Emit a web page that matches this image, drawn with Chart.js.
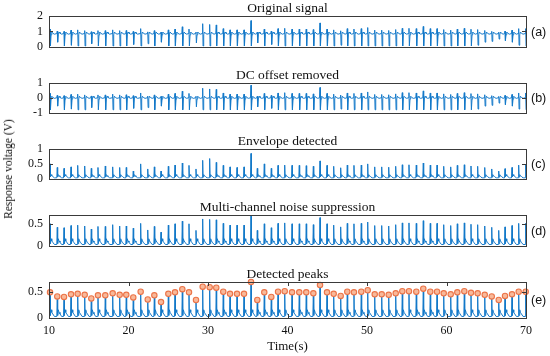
<!DOCTYPE html>
<html>
<head>
<meta charset="utf-8">
<script src="https://cdn.jsdelivr.net/npm/chart.js@4.4.1/dist/chart.umd.min.js"></script>
<style>
  body { margin: 0; background: #fff; }
  #wrap { position: relative; width: 550px; height: 356px; background: #fff; }
  #wrap canvas { position: absolute; left: 0; }
  #ylab {
    position: absolute; left: 8px; top: 169px;
    transform: translate(-50%, -50%) rotate(-90deg);
    font: 11.5px "Liberation Serif", serif; color: #111; white-space: nowrap;
  }
</style>
</head>
<body>
<div id="wrap">
  <canvas id="pa" width="550" height="60" style="top:0px"></canvas>
  <canvas id="pb" width="550" height="59" style="top:67px"></canvas>
  <canvas id="pc" width="550" height="59" style="top:133px"></canvas>
  <canvas id="pd" width="550" height="60" style="top:199px"></canvas>
  <canvas id="pe" width="550" height="90" style="top:266px"></canvas>
  <div id="ylab">Response voltage (V)</div>
</div>
<script>
const beatTimes = [10.13, 11.04, 11.89, 12.77, 13.61, 14.49, 15.32, 16.16, 17.08, 18.01,
  18.89, 19.72, 20.60, 21.53, 22.42, 23.25, 24.09, 25.01, 25.85, 26.77,
  27.61, 28.49, 29.33, 30.21, 31.04, 31.92, 32.77, 33.65, 34.53, 35.41,
  36.20, 37.08, 37.96, 38.81, 39.65, 40.57, 41.48, 42.36, 43.25, 44.09,
  44.97, 45.81, 46.69, 47.52, 48.36, 49.28, 50.09, 50.97, 51.85, 52.73,
  53.61, 54.44, 55.28, 56.20, 57.08, 57.96, 58.81, 59.65, 60.53, 61.36,
  62.24, 63.08, 63.92, 64.81, 65.69, 66.57, 67.36, 68.24, 69.08, 69.96];

// original signal: upward spike and downward spike of each beat (V)
const peaksA = [1.15, 1.02, 1.00, 1.08, 1.10, 1.05, 0.98, 1.05, 1.05, 1.10,
  1.05, 1.06, 1.00, 1.18, 0.97, 1.05, 0.95, 1.10, 1.15, 1.30,
  1.15, 0.96, 1.50, 1.45, 1.42, 1.18, 1.10, 1.10, 1.10, 1.70,
  0.96, 1.15, 1.02, 1.18, 1.20, 1.15, 1.15, 1.15, 1.12, 1.55,
  1.15, 1.10, 1.04, 1.18, 1.15, 1.18, 1.25, 1.08, 1.08, 1.06,
  1.12, 1.20, 1.20, 1.18, 1.32, 1.18, 1.18, 1.12, 1.08, 1.15,
  1.20, 1.14, 1.12, 1.06, 1.00, 0.95, 1.02, 1.08, 1.18, 1.18];
const troughsA = [0.05, 0.30, 0.05, 0.10, 0.05, 0.05, 0.20, 0.05, 0.05, 0.05,
  0.05, 0.05, 0.15, 0.05, 0.20, 0.05, 0.30, 0.05, 0.05, 0.05,
  0.05, 0.25, 0.05, 0.05, 0.05, 0.05, 0.05, 0.05, 0.05, 0.05,
  0.25, 0.05, 0.15, 0.05, 0.05, 0.05, 0.05, 0.05, 0.05, 0.05,
  0.05, 0.05, 0.10, 0.05, 0.05, 0.05, 0.05, 0.05, 0.05, 0.05,
  0.05, 0.05, 0.05, 0.05, 0.05, 0.05, 0.05, 0.05, 0.05, 0.05,
  0.05, 0.05, 0.10, 0.30, 0.35, 0.50, 0.40, 0.30, 0.10, 0.05];
const dcOffset = 0.85;

// envelope peaks
const peaksC = [0.50, 0.38, 0.35, 0.40, 0.45, 0.43, 0.35, 0.38, 0.43, 0.40,
  0.38, 0.38, 0.26, 0.50, 0.33, 0.40, 0.26, 0.42, 0.46, 0.53,
  0.45, 0.33, 0.62, 0.68, 0.55, 0.45, 0.40, 0.38, 0.40, 0.85,
  0.35, 0.50, 0.35, 0.45, 0.46, 0.45, 0.45, 0.44, 0.42, 0.60,
  0.45, 0.42, 0.37, 0.46, 0.45, 0.46, 0.50, 0.40, 0.40, 0.39,
  0.42, 0.47, 0.47, 0.46, 0.53, 0.46, 0.46, 0.42, 0.40, 0.45,
  0.47, 0.43, 0.42, 0.38, 0.33, 0.26, 0.34, 0.38, 0.46, 0.48];

// noise-suppressed peaks (also the detected peak markers)
const peaksE = [0.50, 0.42, 0.41, 0.46, 0.47, 0.45, 0.38, 0.44, 0.44, 0.48,
  0.45, 0.45, 0.40, 0.51, 0.36, 0.44, 0.31, 0.47, 0.50, 0.56,
  0.50, 0.35, 0.61, 0.60, 0.59, 0.51, 0.47, 0.47, 0.47, 0.70,
  0.35, 0.50, 0.41, 0.51, 0.52, 0.50, 0.50, 0.50, 0.48, 0.64,
  0.50, 0.47, 0.43, 0.51, 0.50, 0.51, 0.54, 0.46, 0.46, 0.45,
  0.48, 0.52, 0.52, 0.51, 0.57, 0.51, 0.51, 0.48, 0.46, 0.50,
  0.52, 0.49, 0.48, 0.45, 0.42, 0.35, 0.43, 0.46, 0.51, 0.51];

// one cycle of each trace as seen in the plots: offset from beat (s) and level
const cycleOffsets = [-0.06, 0, 0.05, 0.13, 0.22, 0.34, 0.55];
const cycleA = [0.86, 'peak', 'trough', 0.78, 0.96, 0.88, 0.82];
const cycleC = [0.03, 'peak', 0.06, 0.14, 0.10, 0.08, 0.03];
const cycleE = [0.03, 'peak', 0.05, 0.16, 0.11, 0.08, 0.03];

const xTickVals = [10, 20, 30, 40, 50, 60, 70];
const yTicksA = [0, 1, 2];
const yTicksB = [-1, 0, 1];
const yTicksC = [0, 0.5, 1];
const yTicksDE = [0, 0.5];
const panelTitles = ['Original signal', 'DC offset removed', 'Envelope detected',
  'Multi-channel noise suppression', 'Detected peaks'];
const panelTags = ['(a)', '(b)', '(c)', '(d)', '(e)'];

const lineBlue = '#1479c9';
const serif = '"Liberation Serif", "Times New Roman", serif';

function buildTrace(cycle, peaks, troughs, shift) {
  const pts = [{ x: 10, y: cycle[0] - shift }];
  beatTimes.forEach((t, i) => {
    cycle.forEach((lvl, k) => {
      let v = lvl;
      if (lvl === 'peak') v = peaks[i];
      if (lvl === 'trough') v = troughs[i];
      pts.push({ x: t + cycleOffsets[k], y: v - shift });
    });
  });
  return pts;
}

// matlab-like box, inward ticks, panel title and tag
const panelDeco = {
  id: 'panelDeco',
  afterDraw(chart, args, o) {
    const { ctx, chartArea: a } = chart;
    const ys = chart.scales.y, xs = chart.scales.x;
    ctx.save();
    ctx.strokeStyle = '#3a3a3a';
    ctx.lineWidth = 1;
    ctx.beginPath();
    ys.ticks.forEach(tk => {
      const py = Math.round(ys.getPixelForValue(tk.value)) + 0.5;
      ctx.moveTo(a.left, py); ctx.lineTo(a.left + 4, py);
      ctx.moveTo(a.right - 4, py); ctx.lineTo(a.right, py);
    });
    if (o.xTicks) {
      xs.ticks.forEach(tk => {
        const px = Math.round(xs.getPixelForValue(tk.value)) + 0.5;
        ctx.moveTo(px, a.bottom); ctx.lineTo(px, a.bottom - 4);
        ctx.moveTo(px, a.top); ctx.lineTo(px, a.top + 4);
      });
    }
    ctx.stroke();
    ctx.strokeRect(Math.round(a.left) + 0.5, Math.round(a.top) + 0.5,
      Math.round(a.right - a.left), Math.round(a.bottom - a.top));
    ctx.fillStyle = '#111';
    ctx.textBaseline = 'middle';
    ctx.textAlign = 'center';
    ctx.font = '13.5px ' + serif;
    ctx.fillText(o.title, (a.left + a.right) / 2, a.top - 8);
    ctx.textAlign = 'left';
    ctx.font = '12.5px "Liberation Sans", Arial, sans-serif';
    ctx.fillText(o.tag, a.right + 5, (a.top + a.bottom) / 2 + 1);
    ctx.restore();
  }
};

function makePanel(id, idx, datasets, yMin, yMax, yTicks, showX) {
  return new Chart(document.getElementById(id), {
    type: 'line',
    data: { datasets: datasets },
    options: {
      responsive: false,
      animation: false,
      devicePixelRatio: 1,
      layout: { padding: { top: 16, right: 24, bottom: showX ? 0 : 8, left: 0 } },
      plugins: {
        legend: { display: false },
        tooltip: { enabled: false },
        panelDeco: { title: panelTitles[idx], tag: panelTags[idx], xTicks: showX }
      },
      scales: {
        x: {
          type: 'linear', min: 10, max: 70, display: showX,
          afterBuildTicks: s => { s.ticks = xTickVals.map(v => ({ value: v })); },
          afterFit: s => { s.height = showX ? 38 : 0; },
          grid: { display: false, drawTicks: false },
          border: { display: false },
          ticks: { padding: 6, color: '#111', font: { family: serif, size: 12 },
            callback: v => String(v) },
          title: { display: showX, text: 'Time(s)', color: '#111',
            font: { family: serif, size: 13 }, padding: { top: 0, bottom: 2 } }
        },
        y: {
          min: yMin, max: yMax,
          afterBuildTicks: s => { s.ticks = yTicks.map(v => ({ value: v })); },
          afterFit: s => { s.width = 49; },
          grid: { display: false, drawTicks: false },
          border: { display: false },
          ticks: { padding: 6, color: '#111', font: { family: serif, size: 12 },
            callback: v => String(v) }
        }
      }
    },
    plugins: [panelDeco]
  });
}

function lineSet(points) {
  return { data: points, borderColor: lineBlue, borderWidth: 1, pointRadius: 0, fill: false };
}

const traceA = buildTrace(cycleA, peaksA, troughsA, 0);
const traceB = buildTrace(cycleA, peaksA, troughsA, dcOffset);
const traceC = buildTrace(cycleC, peaksC, null, 0);
const traceE = buildTrace(cycleE, peaksE, null, 0);
const markers = beatTimes.map((t, i) => ({ x: t, y: peaksE[i] }));

makePanel('pa', 0, [lineSet(traceA)], 0, 2, yTicksA, false);
makePanel('pb', 1, [lineSet(traceB)], -1, 1, yTicksB, false);
makePanel('pc', 2, [lineSet(traceC)], 0, 1, yTicksC, false);
makePanel('pd', 3, [lineSet(traceE)], 0, 0.7, yTicksDE, false);
makePanel('pe', 4, [
  { data: markers, showLine: false, clip: false, pointRadius: 2.7,
    pointBackgroundColor: '#f8b99a', pointBorderColor: '#ec7448', pointBorderWidth: 1.1 },
  lineSet(traceE)
], 0, 0.7, yTicksDE, true);
</script>
</body>
</html>
